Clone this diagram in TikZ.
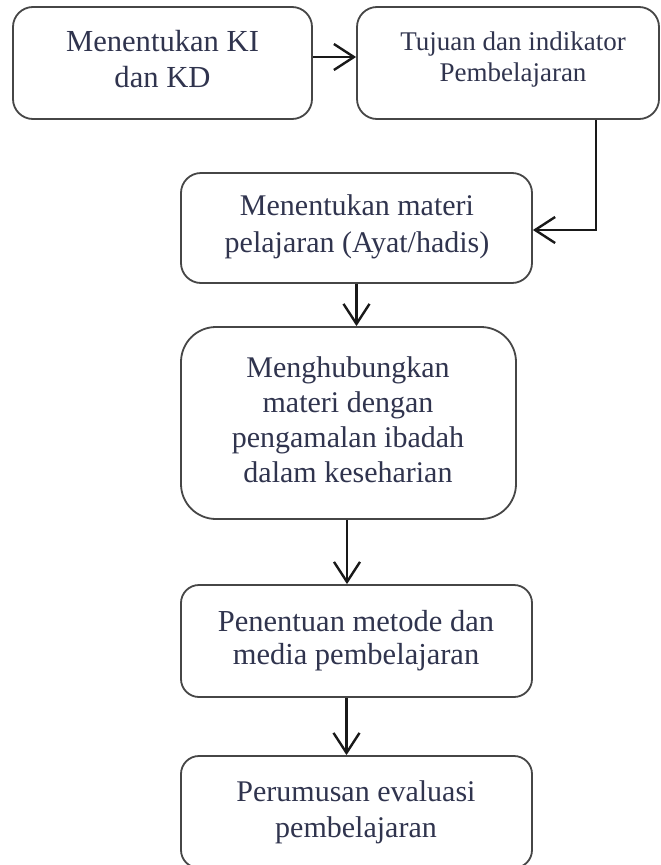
\documentclass[tikz,border=0pt]{standalone}
\usepackage{fontspec}
\setmainfont{Liberation Serif}
\usetikzlibrary{arrows.meta}
\definecolor{boxline}{RGB}{70,70,70}
\definecolor{txtcol}{RGB}{48,52,78}
\tikzset{
  flowbox/.style={draw=boxline, line width=1.8pt, rectangle, inner sep=0pt, fill=white},
  flowtxt/.style={align=center, text=txtcol, inner sep=0pt},
  arr/.style={draw=black!90, line width=2.4pt, -{Straight Barb[length=20pt,width=26pt,line width=2.4pt]}}
}
\begin{document}
\begin{tikzpicture}[x=1pt,y=-1pt]
\useasboundingbox[fill=white] (0,0) rectangle (661,865);
% boxes
\node[flowbox, rounded corners=20pt, minimum width=299pt, minimum height=112pt] (b1) at (162.5,63) {};
\node[flowbox, rounded corners=20pt, minimum width=302pt, minimum height=112pt] (b2) at (508,63) {};
\node[flowbox, rounded corners=20pt, minimum width=351pt, minimum height=110pt] (b3) at (356.5,228) {};
\node[flowbox, rounded corners=35pt, minimum width=335pt, minimum height=192pt] (b4) at (348.5,423) {};
\node[flowbox, rounded corners=18pt, minimum width=351pt, minimum height=112pt] (b5) at (356.5,641) {};
\node[flowbox, rounded corners=18pt, minimum width=351pt, minimum height=112pt] (b6) at (356.5,812) {};
% texts
\node[flowtxt, font=\fontsize{30.6}{36}\selectfont] (t1) at (162.5,59.5) {Menentukan KI\\dan KD};
\node[flowtxt, font=\fontsize{27}{31}\selectfont] (t2) at (513,59.3) {Tujuan dan indikator\\Pembelajaran};
\node[flowtxt, font=\fontsize{30}{37}\selectfont] (t3) at (357,226.5) {Menentukan materi\\pelajaran (Ayat/hadis)};
\node[flowtxt, font=\fontsize{30}{35}\selectfont] (t4) at (348,419.3) {Menghubungkan\\materi dengan\\pengamalan ibadah\\dalam keseharian};
\node[flowtxt, font=\fontsize{30.5}{33}\selectfont] (t5) at (356,640.5) {Penentuan metode dan\\media pembelajaran};
\node[flowtxt, font=\fontsize{30}{36}\selectfont] (t6) at (356,812) {Perumusan evaluasi\\pembelajaran};
% connectors
\draw[arr] ([yshift=6pt]b1.east) -- ([yshift=6pt]b1.east -| b2.west);
\draw[arr] ([xshift=88pt]b2.south) |- ([yshift=-2pt]b3.east);
\draw[arr] (b3.south) -- (b3.south |- b4.north);
\draw[arr] ([xshift=-1.5pt]b4.south) -- ([xshift=-1.5pt]b4.south |- b5.north);
\draw[arr] ([xshift=-10pt]b5.south) -- ([xshift=-10pt]b5.south |- b6.north);
\end{tikzpicture}
\end{document}
